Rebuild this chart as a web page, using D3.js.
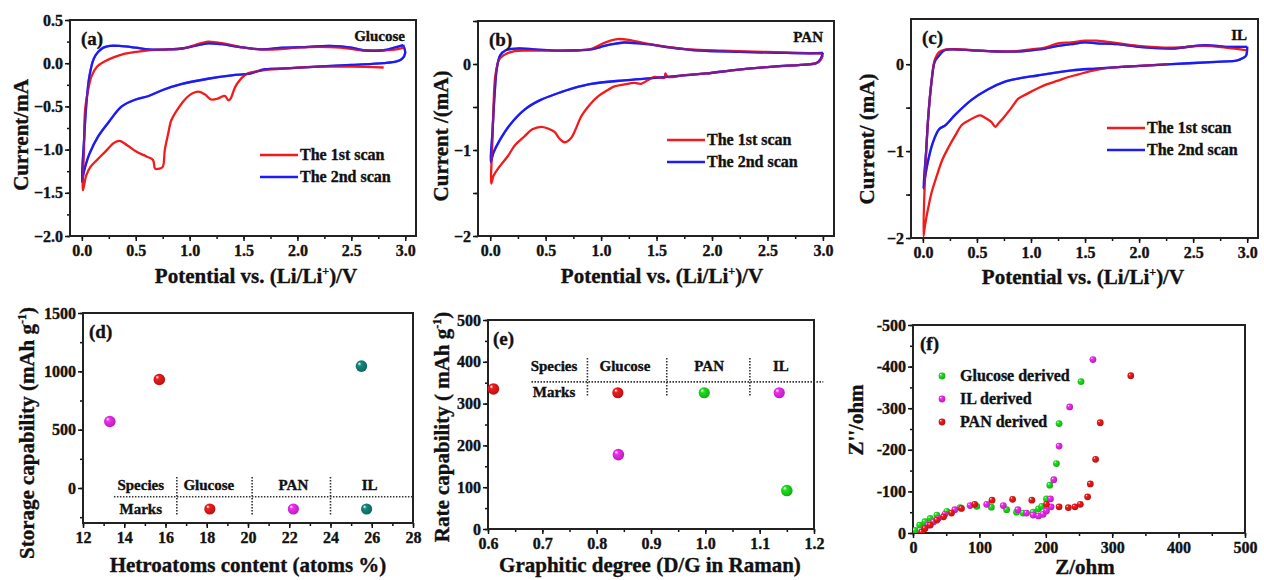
<!DOCTYPE html>
<html>
<head>
<meta charset="utf-8">
<script src="https://cdn.jsdelivr.net/npm/d3@7"></script>
<style>
  body { margin: 0; background: #fff; }
  svg { display: block; }
  text { font-family: "Liberation Serif", "Times New Roman", serif; font-weight: bold; fill: #111; stroke: #111; stroke-width: 0.35px; }
</style>
</head>
<body>
<div id="fig"></div>
<script>
// CV curves [potential V, current mA]
var glucoseScan1 = [[2.80,-0.05],[2.5,-0.04],[2.2,-0.04],[1.9,-0.06],[1.7,-0.08],[1.56,-0.11],[1.51,-0.14],[1.45,-0.22],[1.42,-0.28],[1.38,-0.41],[1.36,-0.43],[1.33,-0.38],[1.31,-0.38],[1.26,-0.41],[1.2,-0.42],[1.14,-0.36],[1.08,-0.33],[1.0,-0.37],[0.93,-0.46],[0.88,-0.55],[0.83,-0.66],[0.8,-0.82],[0.77,-1.0],[0.75,-1.2],[0.72,-1.22],[0.68,-1.22],[0.66,-1.12],[0.6,-1.08],[0.5,-1.02],[0.42,-0.95],[0.35,-0.9],[0.3,-0.92],[0.22,-1.02],[0.14,-1.12],[0.08,-1.2],[0.04,-1.3],[0.01,-1.47],[0.02,-1.0],[0.03,-0.54],[0.06,-0.3],[0.09,-0.15],[0.14,-0.04],[0.21,0.02],[0.3,0.07],[0.4,0.11],[0.5,0.13],[0.62,0.15],[0.8,0.16],[0.93,0.17],[1.05,0.21],[1.17,0.25],[1.25,0.24],[1.39,0.21],[1.5,0.18],[1.66,0.16],[1.8,0.16],[2.0,0.18],[2.2,0.19],[2.4,0.18],[2.6,0.15],[2.8,0.15],[2.92,0.16],[2.99,0.18]];
var glucoseScan2 = [[2.98,0.21],[3.0,0.12],[2.97,0.05],[2.92,0.02],[2.8,0.0],[2.5,-0.02],[2.18,-0.04],[1.9,-0.06],[1.7,-0.07],[1.56,-0.12],[1.39,-0.14],[1.17,-0.18],[0.93,-0.24],[0.75,-0.31],[0.62,-0.38],[0.5,-0.42],[0.37,-0.5],[0.25,-0.68],[0.15,-0.85],[0.07,-1.05],[0.02,-1.25],[0.0,-1.37],[0.02,-0.9],[0.04,-0.5],[0.07,-0.15],[0.11,0.05],[0.15,0.13],[0.2,0.18],[0.26,0.2],[0.35,0.2],[0.5,0.18],[0.62,0.16],[0.8,0.16],[0.93,0.17],[1.05,0.2],[1.17,0.23],[1.3,0.22],[1.45,0.19],[1.66,0.16],[1.87,0.18],[2.1,0.19],[2.3,0.2],[2.5,0.18],[2.61,0.15],[2.8,0.15],[2.9,0.18],[2.98,0.21]];

var panScan1 = [[3.0,0.1],[2.96,0.02],[2.8,-0.01],[2.55,-0.03],[2.2,-0.07],[1.95,-0.11],[1.75,-0.13],[1.6,-0.15],[1.58,-0.11],[1.57,-0.16],[1.48,-0.15],[1.42,-0.19],[1.36,-0.23],[1.3,-0.22],[1.2,-0.24],[1.12,-0.26],[1.05,-0.31],[0.97,-0.38],[0.9,-0.47],[0.82,-0.61],[0.77,-0.76],[0.73,-0.86],[0.67,-0.91],[0.62,-0.86],[0.58,-0.79],[0.52,-0.75],[0.46,-0.73],[0.38,-0.76],[0.31,-0.84],[0.22,-0.95],[0.16,-1.07],[0.08,-1.2],[0.03,-1.3],[0.01,-1.39],[0.02,-0.9],[0.03,-0.5],[0.045,-0.15],[0.08,0.05],[0.12,0.1],[0.22,0.15],[0.4,0.155],[0.6,0.155],[0.8,0.16],[0.92,0.18],[1.0,0.23],[1.08,0.27],[1.15,0.29],[1.25,0.28],[1.4,0.24],[1.6,0.2],[1.8,0.17],[2.1,0.155],[2.5,0.14],[2.8,0.13],[3.0,0.12]];
var panScan2 = [[3.0,0.13],[2.98,0.06],[2.94,0.01],[2.8,-0.01],[2.55,-0.03],[2.2,-0.07],[1.95,-0.11],[1.6,-0.15],[1.4,-0.17],[1.21,-0.19],[0.91,-0.23],[0.75,-0.28],[0.61,-0.34],[0.45,-0.42],[0.31,-0.53],[0.17,-0.72],[0.08,-0.9],[0.03,-1.03],[0.005,-1.14],[0.02,-0.8],[0.04,-0.35],[0.06,-0.05],[0.09,0.1],[0.14,0.16],[0.25,0.18],[0.4,0.17],[0.61,0.155],[0.8,0.16],[0.91,0.17],[1.0,0.2],[1.1,0.23],[1.21,0.25],[1.42,0.23],[1.63,0.19],[1.85,0.16],[2.25,0.14],[2.6,0.13],[2.9,0.125],[3.0,0.13]];

var ilScan1 = [[2.27,0.0],[2.0,-0.02],[1.84,-0.03],[1.67,-0.05],[1.55,-0.08],[1.43,-0.12],[1.34,-0.15],[1.25,-0.19],[1.15,-0.23],[1.06,-0.28],[0.98,-0.33],[0.92,-0.37],[0.88,-0.4],[0.82,-0.5],[0.75,-0.61],[0.7,-0.68],[0.67,-0.72],[0.63,-0.66],[0.58,-0.62],[0.53,-0.59],[0.48,-0.61],[0.42,-0.65],[0.36,-0.7],[0.3,-0.82],[0.24,-0.95],[0.18,-1.1],[0.13,-1.28],[0.08,-1.48],[0.05,-1.65],[0.02,-1.85],[0.005,-1.98],[0.02,-1.3],[0.05,-0.6],[0.08,-0.2],[0.11,0.05],[0.15,0.14],[0.22,0.17],[0.35,0.17],[0.6,0.15],[0.85,0.15],[1.0,0.17],[1.13,0.19],[1.25,0.24],[1.37,0.25],[1.5,0.27],[1.61,0.27],[1.75,0.25],[1.99,0.21],[2.3,0.19],[2.6,0.21],[2.8,0.19],[3.0,0.16]];
var ilScan2 = [[3.0,0.2],[2.99,0.1],[2.96,0.07],[2.9,0.04],[2.76,0.03],[2.3,0.0],[1.84,-0.03],[1.6,-0.05],[1.38,-0.07],[1.06,-0.13],[0.9,-0.16],[0.76,-0.2],[0.6,-0.29],[0.45,-0.41],[0.3,-0.58],[0.21,-0.7],[0.15,-0.75],[0.09,-0.91],[0.05,-1.1],[0.02,-1.3],[0.005,-1.43],[0.03,-1.0],[0.05,-0.6],[0.08,-0.2],[0.11,0.03],[0.15,0.1],[0.2,0.16],[0.28,0.17],[0.45,0.16],[0.61,0.15],[0.85,0.145],[1.0,0.16],[1.13,0.18],[1.25,0.21],[1.37,0.23],[1.5,0.25],[1.61,0.24],[1.8,0.23],[1.99,0.2],[2.3,0.18],[2.6,0.22],[2.8,0.2],[3.0,0.2]];

var scanNames = ['The 1st scan', 'The 2nd scan'];

// (d) storage capability vs heteroatom content
var species = ['Glucose', 'PAN', 'IL'];
var hetero = [15.7, 13.3, 25.5];
var storage = [930, 570, 1045];

// (e) rate capability vs D/G
var graphitic = [0.61, 1.15, 0.84];
var rate = [335, 92, 178];

// (f) Nyquist plots, [Z, -Z'']
var nyqGlucose = [[3,6],[10,19],[18,27],[26,35],[36,43],[51,52],[71,61],[96,64],[118,62],[141,56],[156,50],[166,48],[181,50],[189,58],[194,64],[201,82],[206,115],[216,167],[220,263],[253,364]];
var nyqIL = [[13,2],[17,11],[23,19],[31,27],[38,35],[48,45],[63,56],[86,66],[111,69],[136,66],[158,56],[171,48],[181,43],[189,41],[196,45],[201,53],[208,63],[207,82],[212,128],[220,209],[236,303],[271,417]];
var nyqPAN = [[13,2],[18,11],[26,19],[36,31],[46,39],[58,48],[73,59],[93,69],[119,79],[150,81],[179,79],[201,69],[220,63],[234,61],[244,63],[252,69],[263,87],[267,118],[275,177],[282,265],[328,378]];
var nyqNames = ['Glucose derived', 'IL derived', 'PAN derived'];

var RED = '#f21a1a', BLUE = '#1c1cf5', MAG = '#f22cf2', TEAL = '#14897e', GREEN = '#1fe21f';

var W = 1264, H = 580;
var svg = d3.select('#fig').append('svg').attr('width', W).attr('height', H);
var defs = svg.append('defs');

function sphere(id, color) {
    var gr = defs.append('radialGradient').attr('id', id)
        .attr('cx', '45%').attr('cy', '45%').attr('r', '60%')
        .attr('fx', '30%').attr('fy', '28%');
    gr.append('stop').attr('offset', '0%').attr('stop-color', '#ffffff');
    gr.append('stop').attr('offset', '28%').attr('stop-color', color);
    gr.append('stop').attr('offset', '100%').attr('stop-color', d3.color(color).darker(0.9));
}
sphere('sRed', RED); sphere('sMag', MAG); sphere('sTeal', TEAL); sphere('sGreen', GREEN);

function cleanAxis(sel) {
    sel.select('.domain').remove();
    sel.selectAll('line').attr('stroke', '#111').attr('stroke-width', 1.5);
    sel.selectAll('text').attr('font-size', 16);
}

// draws frame + axes, returns scales
function panel(box, xd, yd, o) {
    var x = d3.scaleLinear().domain(xd).range([box.x0, box.x1]);
    var y = d3.scaleLinear().domain(yd).range([box.y1, box.y0]);
    var g = svg.append('g');

    g.append('g').attr('transform', 'translate(0,' + box.y1 + ')')
        .call(d3.axisBottom(x).tickValues(o.xMinor).tickSize(3).tickFormat(''))
        .call(cleanAxis);
    g.append('g').attr('transform', 'translate(0,' + box.y1 + ')')
        .call(d3.axisBottom(x).tickValues(o.xMajor).tickSize(5).tickPadding(4).tickFormat(o.xFmt))
        .call(cleanAxis);
    g.append('g').attr('transform', 'translate(' + box.x0 + ',0)')
        .call(d3.axisLeft(y).tickValues(o.yMinor).tickSize(3).tickFormat(''))
        .call(cleanAxis);
    g.append('g').attr('transform', 'translate(' + box.x0 + ',0)')
        .call(d3.axisLeft(y).tickValues(o.yMajor).tickSize(5).tickPadding(2).tickFormat(o.yFmt))
        .call(cleanAxis);

    g.append('rect')
        .attr('x', box.x0).attr('y', box.y0)
        .attr('width', box.x1 - box.x0).attr('height', box.y1 - box.y0)
        .attr('fill', 'none').attr('stroke', '#222').attr('stroke-width', 2);

    var cid = 'clip' + o.tag;
    defs.append('clipPath').attr('id', cid).append('rect')
        .attr('x', box.x0).attr('y', box.y0)
        .attr('width', box.x1 - box.x0).attr('height', box.y1 - box.y0);
    var plot = g.append('g').attr('clip-path', 'url(#' + cid + ')');

    g.append('text').attr('x', box.x0 + o.labDx).attr('y', box.y0 + o.labDy)
        .attr('font-size', 19).text('(' + o.tag + ')');

    return {x: x, y: y, g: g, plot: plot};
}

function rng(a, b, s) {
    var out = [];
    for (var i = 0; a + i * s <= b + 1e-9; i++) out.push(+(a + i * s).toFixed(4));
    return out;
}
function isInt(d) { return Math.abs(d - Math.round(d)) < 1e-6; }

function title(t, parts) {
    parts.forEach(function(p) {
        var s = t.append('tspan').text(p[0]);
        if (p[1]) s.attr('font-size', 12).attr('dy', -8);
        else if (p[2]) s.attr('dy', 8);
    });
}
function xTitle(cx, cy, parts) {
    title(svg.append('text').attr('x', cx).attr('y', cy).attr('text-anchor', 'middle').attr('font-size', 21), parts);
}
function yTitle(cx, cy, parts) {
    title(svg.append('text').attr('transform', 'translate(' + cx + ',' + cy + ') rotate(-90)')
        .attr('text-anchor', 'middle').attr('font-size', 21), parts);
}

var potTitle = [['Potential vs. (Li/Li'], ['+', true], [')/V', false, true]];
var fmt1 = d3.format('.1f');

// ---- CV panels ----
function cvPanel(box, tag, yd, s1, s2, name, leg, yMajor, yMinor, yFmt) {
    var p = panel(box, [-0.11, 3.1], yd, {
        tag: tag, labDx: 11, labDy: 25,
        xMajor: rng(0, 3, 0.5), xMinor: rng(0, 3, 0.25), xFmt: fmt1,
        yMajor: yMajor, yMinor: yMinor, yFmt: yFmt
    });
    var line = d3.line().x(function(d) { return p.x(d[0]); }).y(function(d) { return p.y(d[1]); })
        .curve(d3.curveCatmullRom.alpha(0.5));
    p.plot.append('path').datum(s2).attr('d', line).attr('fill', 'none').attr('stroke', BLUE).attr('stroke-width', 2.3);
    p.plot.append('path').datum(s1).attr('d', line).attr('fill', 'none').attr('stroke', RED).attr('stroke-width', 2.3);
    // blue again, half see-through, where the scans overlap
    p.plot.append('path').datum(s2).attr('d', line).attr('fill', 'none').attr('stroke', BLUE).attr('stroke-width', 2.3).attr('stroke-opacity', 0.55);

    p.g.append('text').attr('x', box.x1 - 11).attr('y', box.y0 + 21).attr('text-anchor', 'end')
        .attr('font-size', 15).text(name);

    [RED, BLUE].forEach(function(c, i) {
        var ly = box.y0 + leg.dy + i * 22;
        p.g.append('line').attr('x1', box.x0 + leg.dx).attr('x2', box.x0 + leg.dx + 38)
            .attr('y1', ly).attr('y2', ly).attr('stroke', c).attr('stroke-width', 2.3);
        p.g.append('text').attr('x', box.x0 + leg.dx + 40).attr('y', ly + 5)
            .attr('font-size', 16).text(scanNames[i]);
    });
    return p;
}

cvPanel({x0: 70, x1: 416, y0: 20, y1: 236}, 'a', [-2.0, 0.5], glucoseScan1, glucoseScan2, 'Glucose',
    {dx: 190, dy: 135}, rng(-2, 0.5, 0.5), rng(-2, 0.5, 0.25), fmt1);
cvPanel({x0: 478, x1: 834, y0: 21, y1: 236}, 'b', [-2.0, 0.5], panScan1, panScan2, 'PAN',
    {dx: 189, dy: 119}, rng(-2, 0.5, 0.5), rng(-2, 0.5, 0.5), function(d) { return isInt(d) && d <= 0 ? d3.format('d')(d) : ''; });
cvPanel({x0: 911, x1: 1258, y0: 19, y1: 238}, 'c', [-2.0, 0.52], ilScan1, ilScan2, 'IL',
    {dx: 196, dy: 109}, rng(-2, 0, 0.5), rng(-2, 0, 0.5), function(d) { return isInt(d) ? d3.format('d')(d) : ''; });

xTitle(256, 283, potTitle);
xTitle(662, 283, potTitle);
xTitle(1083, 284, potTitle);
yTitle(28, 135, [['Current/mA']]);
yTitle(448, 136, [['Current /(mA)']]);
yTitle(874, 139, [['Current/ (mA)']]);

// ---- species table helper ----
function speciesTable(p, t) {
    var dot = '1.5,1.5';
    p.g.append('line').attr('x1', p.x(t.hx0)).attr('x2', p.x(t.hx1))
        .attr('y1', p.y(t.hy)).attr('y2', p.y(t.hy))
        .attr('stroke', '#333').attr('stroke-width', 1.6).attr('stroke-dasharray', dot);
    t.vx.forEach(function(v) {
        p.g.append('line').attr('x1', p.x(v)).attr('x2', p.x(v))
            .attr('y1', p.y(t.vy0)).attr('y2', p.y(t.vy1))
            .attr('stroke', '#333').attr('stroke-width', 1.6).attr('stroke-dasharray', dot);
    });
    p.g.append('text').attr('x', p.x(t.lx)).attr('y', t.row1).attr('text-anchor', 'middle').attr('font-size', 15).text('Species');
    p.g.append('text').attr('x', p.x(t.lx)).attr('y', t.row2).attr('text-anchor', 'middle').attr('font-size', 15).text('Marks');
    species.forEach(function(s, i) {
        p.g.append('text').attr('x', p.x(t.cx[i])).attr('y', t.row1).attr('text-anchor', 'middle').attr('font-size', 15).text(s);
        p.g.append('circle').attr('cx', p.x(t.mx[i])).attr('cy', p.y(t.my)).attr('r', 5.6)
            .attr('fill', 'url(#' + t.fills[i] + ')');
    });
}

// ---- (d) ----
var pd = panel({x0: 83, x1: 413, y0: 313, y1: 523}, [12, 28], [-300, 1500], {
    tag: 'd', labDx: 6, labDy: 25,
    xMajor: rng(12, 28, 2), xMinor: rng(12, 28, 1), xFmt: d3.format('d'),
    yMajor: rng(0, 1500, 500), yMinor: rng(-250, 1500, 250), yFmt: d3.format('d')
});
var dFills = ['sRed', 'sMag', 'sTeal'];
pd.g.selectAll('.pt').data(hetero).enter().append('circle')
    .attr('cx', function(d) { return pd.x(d); })
    .attr('cy', function(d, i) { return pd.y(storage[i]); })
    .attr('r', 5.8).attr('fill', function(d, i) { return 'url(#' + dFills[i] + ')'; });
speciesTable(pd, {hx0: 13.5, hx1: 28, hy: -75, vx: [16.55, 20.2, 24.0], vy0: 95, vy1: -230,
    lx: 14.8, row1: 490, row2: 514, cx: [18.1, 22.2, 25.9], mx: [18.15, 22.2, 25.75], my: -180,
    fills: ['sRed', 'sMag', 'sTeal']});
xTitle(248, 572, [['Hetroatoms content (atoms %)']]);
yTitle(34, 433, [['Storage capability (mAh g'], ['-1', true], [')', false, true]]);

// ---- (e) ----
var pe = panel({x0: 488, x1: 814, y0: 320, y1: 529}, [0.6, 1.2], [0, 500], {
    tag: 'e', labDx: 5, labDy: 25,
    xMajor: rng(0.6, 1.2, 0.1), xMinor: rng(0.6, 1.2, 0.05), xFmt: fmt1,
    yMajor: rng(0, 500, 100), yMinor: rng(0, 500, 50), yFmt: d3.format('d')
});
var eFills = ['sRed', 'sGreen', 'sMag'];
pe.g.selectAll('.pt').data(graphitic).enter().append('circle')
    .attr('cx', function(d) { return pe.x(d); })
    .attr('cy', function(d, i) { return pe.y(rate[i]); })
    .attr('r', 5.8).attr('fill', function(d, i) { return 'url(#' + eFills[i] + ')'; });
speciesTable(pe, {hx0: 0.68, hx1: 1.217, hy: 352, vx: [0.783, 0.929, 1.082], vy0: 409, vy1: 316,
    lx: 0.7215, row1: 371, row2: 397, cx: [0.852, 1.007, 1.139], mx: [0.839, 0.998, 1.136], my: 326,
    fills: ['sRed', 'sGreen', 'sMag']});
xTitle(650, 572, [['Graphitic degree (D/G in Raman)']]);
yTitle(449, 427, [['Rate capability ( mAh g'], ['-1', true], [')', false, true]]);

// ---- (f) ----
var pf = panel({x0: 913, x1: 1245, y0: 325, y1: 533}, [0, 500], [0, 500], {
    tag: 'f', labDx: 7, labDy: 25,
    xMajor: rng(0, 500, 100), xMinor: rng(0, 500, 50), xFmt: d3.format('d'),
    yMajor: rng(0, 500, 100), yMinor: rng(0, 500, 50), yFmt: function(d) { return d === 0 ? '0' : '-' + d; }
});
var nyqSets = [nyqGlucose, nyqIL, nyqPAN];
var fFills = ['sGreen', 'sMag', 'sRed'];
nyqSets.forEach(function(set, k) {
    pf.plot.selectAll('.n' + k).data(set).enter().append('circle')
        .attr('cx', function(d) { return pf.x(d[0]); })
        .attr('cy', function(d) { return pf.y(d[1]); })
        .attr('r', 3.4).attr('fill', 'url(#' + fFills[k] + ')');
    pf.g.append('circle').attr('cx', pf.x(0) + 29).attr('cy', 376 + k * 23).attr('r', 3.4)
        .attr('fill', 'url(#' + fFills[k] + ')');
    pf.g.append('text').attr('x', pf.x(0) + 47).attr('y', 381 + k * 23).attr('font-size', 16).text(nyqNames[k]);
});
xTitle(1085, 574, [['Z/ohm']]);
yTitle(863, 420, [["Z''/ohm"]]);
</script>
</body>
</html>
